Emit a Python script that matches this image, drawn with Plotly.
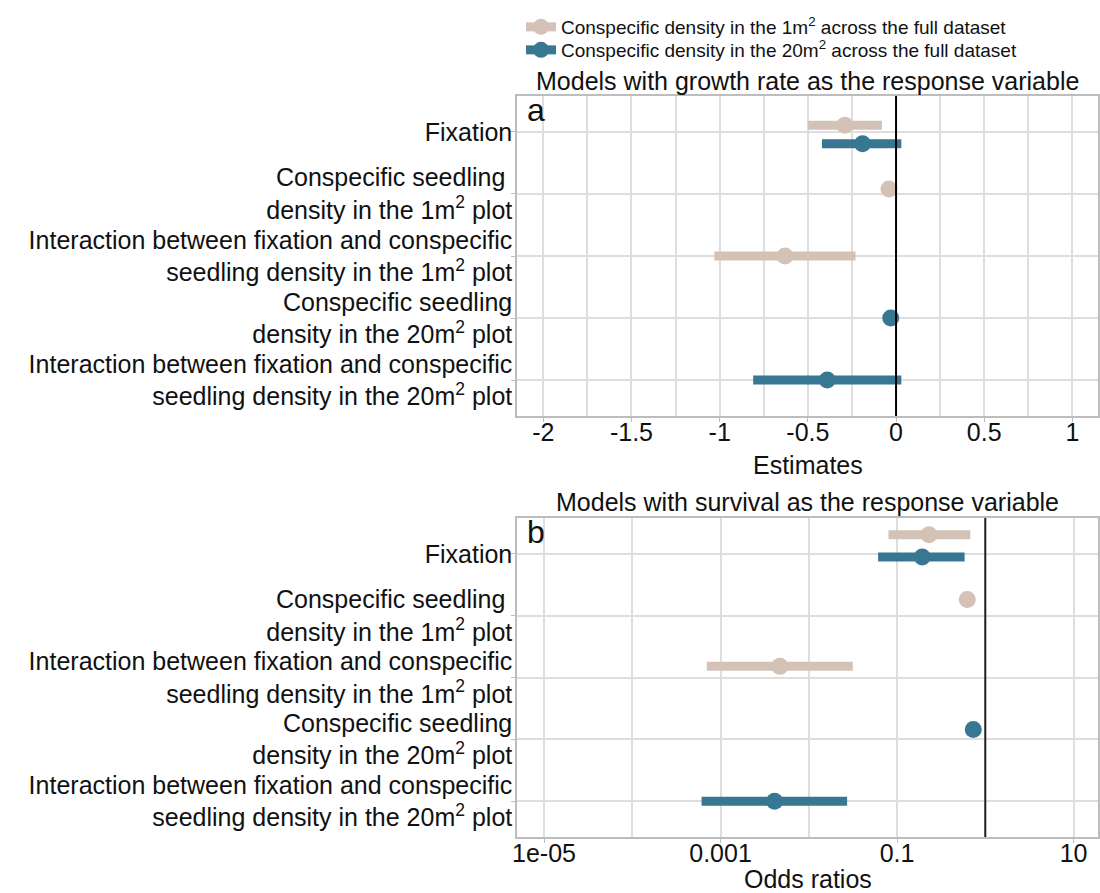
import plotly.graph_objects as go

# ---------------- data ----------------
CATEGORIES = [
    "Fixation",
    "Conspecific seedling\u00a0<br>density in the 1m<sup>2</sup> plot",
    "Interaction between fixation and conspecific<br>seedling density in the 1m<sup>2</sup> plot",
    "Conspecific seedling<br>density in the 20m<sup>2</sup> plot",
    "Interaction between fixation and conspecific<br>seedling density in the 20m<sup>2</sup> plot",
]
SERIES_NAMES = [
    "Conspecific density in the 1m<sup>2</sup> across the full dataset",
    "Conspecific density in the 20m<sup>2</sup> across the full dataset",
]
CAT_1M = [0, 1, 2]
CAT_20M = [0, 3, 4]

# growth-rate models (estimates)
GROWTH_1M_EST = [-0.29, -0.04, -0.63]
GROWTH_1M_LO = [-0.50, -0.06, -1.03]
GROWTH_1M_HI = [-0.08, -0.02, -0.23]
GROWTH_20M_EST = [-0.19, -0.03, -0.39]
GROWTH_20M_LO = [-0.42, -0.05, -0.81]
GROWTH_20M_HI = [0.03, -0.01, 0.03]

# survival models (odds ratios)
SURV_1M_OR = [0.23, 0.625, 0.0047]
SURV_1M_LO = [0.080, 0.60, 0.0007]
SURV_1M_HI = [0.676, 0.65, 0.0315]
SURV_20M_OR = [0.193, 0.731, 0.0041]
SURV_20M_LO = [0.061, 0.70, 0.00061]
SURV_20M_HI = [0.583, 0.76, 0.0272]

GROWTH_TICKS = [-2, -1.5, -1, -0.5, 0, 0.5, 1]
GROWTH_TICKTEXT = ["-2", "-1.5", "-1", "-0.5", "0", "0.5", "1"]
SURV_TICKS = [1e-5, 1e-3, 1e-1, 10]
SURV_TICKTEXT = ["1e-05", "0.001", "0.1", "10"]
SURV_MINOR = [1e-4, 1e-2, 1]
REF_GROWTH = 0
REF_SURV = 1

# ---------------- style ----------------
BEIGE = "#D3C2B5"
BLUE = "#387791"
FONT = "Liberation Sans, Arial, Helvetica, sans-serif"
GRID = "#dedede"
BORDER = "#bdbdbd"
TXT = 25
DODGE_GROWTH_1M = [-0.11, -0.08, 0.0]
DODGE_GROWTH_20M = [0.19, 0.0, 0.0]
DODGE_SURV_1M = [-0.31, -0.26, -0.18]
DODGE_SURV_20M = [0.05, -0.16, 0.0]

fig = go.Figure()


def add_series(est, lo, hi, cats, dodge, color, xa, ya):
    fig.add_trace(go.Scatter(
        x=est,
        y=[c + d for c, d in zip(cats, dodge)],
        mode="markers",
        marker=dict(size=17, color=color),
        error_x=dict(type="data", symmetric=False,
                     array=[h - e for h, e in zip(hi, est)],
                     arrayminus=[e - l for e, l in zip(est, lo)],
                     thickness=9, width=0, color=color),
        xaxis=xa, yaxis=ya, showlegend=False, hoverinfo="x+y",
    ))


add_series(GROWTH_1M_EST, GROWTH_1M_LO, GROWTH_1M_HI, CAT_1M, DODGE_GROWTH_1M, BEIGE, "x", "y")
add_series(GROWTH_20M_EST, GROWTH_20M_LO, GROWTH_20M_HI, CAT_20M, DODGE_GROWTH_20M, BLUE, "x", "y")
add_series(SURV_1M_OR, SURV_1M_LO, SURV_1M_HI, CAT_1M, DODGE_SURV_1M, BEIGE, "x2", "y2")
add_series(SURV_20M_OR, SURV_20M_LO, SURV_20M_HI, CAT_20M, DODGE_SURV_20M, BLUE, "x2", "y2")

# legend entries
for name, color, lg in [(SERIES_NAMES[0], BEIGE, "legend"), (SERIES_NAMES[1], BLUE, "legend2")]:
    fig.add_trace(go.Scatter(
        x=[None], y=[None], mode="lines+markers", name=name,
        line=dict(color=color, width=9), marker=dict(color=color, size=16),
        legend=lg, showlegend=True, xaxis="x", yaxis="y",
    ))

XDOM = [517 / 1100, 1098 / 1100]
Y1DOM = [1 - 416 / 893, 1 - 96 / 893]
Y2DOM = [1 - 837 / 893, 1 - 518 / 893]

common_y = dict(
    tickmode="array", tickvals=list(range(len(CATEGORIES))), ticktext=CATEGORIES,
    range=[4.58, -0.58], showgrid=True, gridcolor=GRID, gridwidth=1.5,
    showline=True, linecolor=BORDER, linewidth=1.5, mirror=True,
    ticks="outside", ticklen=4, tickcolor=BORDER, zeroline=False,
    ticklabelstandoff=-6,
    tickfont=dict(family=FONT, size=TXT, color="#111"), automargin=False,
)
common_x = dict(
    showgrid=True, gridcolor=GRID, gridwidth=1.5,
    showline=True, linecolor=BORDER, linewidth=1.5, mirror=True,
    ticks="outside", ticklen=4, tickcolor=BORDER, zeroline=False,
    ticklabelstandoff=-11,
    tickfont=dict(family=FONT, size=TXT, color="#111"), automargin=False,
)
fig.update_layout(
    template="none",
    width=1100, height=893, autosize=False,
    margin=dict(l=0, r=0, t=0, b=0),
    paper_bgcolor="white", plot_bgcolor="white",
    font=dict(family=FONT, color="#111"),
    xaxis=dict(
        domain=XDOM, anchor="y", range=[-2.149, 1.145],
        tickmode="array", tickvals=GROWTH_TICKS, ticktext=GROWTH_TICKTEXT,
        minor=dict(dtick=0.25, tick0=0, showgrid=True, gridcolor=GRID, gridwidth=1.5),
        **common_x,
    ),
    yaxis=dict(domain=Y1DOM, anchor="x", **common_y),
    xaxis2=dict(
        domain=XDOM, anchor="y2", type="log", range=[-5.306, 1.277],
        tickmode="array", tickvals=SURV_TICKS, ticktext=SURV_TICKTEXT,
        minor=dict(tickvals=SURV_MINOR, showgrid=True, gridcolor=GRID, gridwidth=1.5),
        **common_x,
    ),
    yaxis2=dict(domain=Y2DOM, anchor="x2", **common_y),
    legend=dict(x=521 / 1100, y=1 - 27 / 893, xanchor="left", yanchor="middle",
                font=dict(family=FONT, size=19, color="#111"), itemwidth=30,
                bgcolor="rgba(0,0,0,0)", borderwidth=0),
    legend2=dict(x=521 / 1100, y=1 - 50 / 893, xanchor="left", yanchor="middle",
                 font=dict(family=FONT, size=19, color="#111"), itemwidth=30,
                 bgcolor="rgba(0,0,0,0)", borderwidth=0),
    showlegend=True,
)

# reference lines (no effect)
fig.add_shape(type="line", xref="x", yref="y domain", x0=REF_GROWTH, x1=REF_GROWTH, y0=0, y1=1,
              line=dict(color="black", width=2), layer="above")
fig.add_shape(type="line", xref="x2", yref="y2 domain", x0=REF_SURV, x1=REF_SURV, y0=0, y1=1,
              line=dict(color="#222", width=2), layer="above")

ann = dict(showarrow=False, font=dict(family=FONT, size=TXT, color="#111"))
cx = (XDOM[0] + XDOM[1]) / 2
fig.add_annotation(text="Models with growth rate as the response variable", xref="paper", yref="paper",
                   x=cx, y=1 - 81 / 893, xanchor="center", yanchor="middle", **ann)
fig.add_annotation(text="Models with survival as the response variable", xref="paper", yref="paper",
                   x=cx, y=1 - 502 / 893, xanchor="center", yanchor="middle", **ann)
fig.add_annotation(text="Estimates", xref="paper", yref="paper",
                   x=cx, y=1 - 465 / 893, xanchor="center", yanchor="middle", **ann)
fig.add_annotation(text="Odds ratios", xref="paper", yref="paper",
                   x=cx, y=1 - 879 / 893, xanchor="center", yanchor="middle", **ann)
panel = dict(showarrow=False, font=dict(family=FONT, size=32, color="#111"))
fig.add_annotation(text="a", xref="x domain", yref="y domain", x=0.014, y=1.02,
                   xanchor="left", yanchor="top", **panel)
fig.add_annotation(text="b", xref="x2 domain", yref="y2 domain", x=0.014, y=1.02,
                   xanchor="left", yanchor="top", **panel)

fig.write_html("out.html")
